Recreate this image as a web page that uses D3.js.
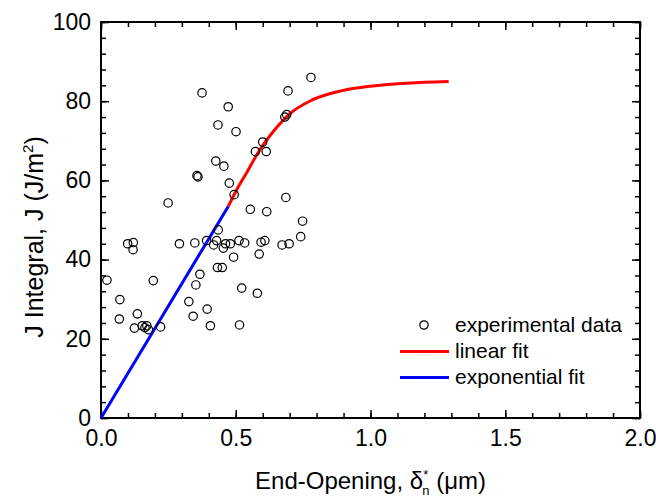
<!DOCTYPE html>
<html lang="en">
<head>
  <meta charset="utf-8">
  <title>J Integral vs End-Opening</title>
  <script src="https://cdnjs.cloudflare.com/ajax/libs/d3/7.8.5/d3.min.js"></script>
  <style type="text/css">
  body { margin: 0; background: #fff; }
  svg { display: block; font-family: Arial, 'Liberation Sans', sans-serif; }
  .tick line { stroke: #000; stroke-width: 1.5; }
  .domain { display: none; }
  </style>
</head>
<body>
  <svg id="chart"></svg>
  <script type="text/javascript">
  // experimental points: [end-opening (um), J (J/m2)]
  var expX = [0.022, 0.070, 0.068, 0.099, 0.120, 0.119, 0.135, 0.124, 0.153, 0.163,
              0.170, 0.176, 0.194, 0.221, 0.249, 0.291, 0.326, 0.342, 0.348, 0.352,
              0.356, 0.360, 0.367, 0.375, 0.392, 0.394, 0.406, 0.418, 0.426, 0.429,
              0.432, 0.434, 0.435, 0.450, 0.454, 0.456, 0.462, 0.472, 0.476, 0.480,
              0.492, 0.494, 0.501, 0.512, 0.514, 0.522, 0.533, 0.554, 0.573, 0.580,
              0.587, 0.594, 0.600, 0.608, 0.613, 0.615, 0.672, 0.682, 0.686, 0.689,
              0.694, 0.698, 0.741, 0.748, 0.779];
  var expJ = [34.8, 29.9, 25.0, 44.0, 44.3, 42.5, 26.3, 22.7, 23.3, 22.8,
              23.3, 22.3, 34.7, 23.0, 54.3, 44.0, 29.4, 25.7, 44.2, 33.6,
              61.2, 60.9, 36.3, 82.1, 44.8, 27.5, 23.3, 43.7, 64.9, 44.8,
              38.0, 74.0, 47.5, 38.0, 42.9, 63.6, 44.0, 78.6, 59.3, 44.0,
              40.6, 56.4, 72.3, 44.8, 23.5, 32.8, 44.2, 52.7, 67.3, 31.5,
              41.4, 44.4, 69.7, 44.8, 67.3, 52.1, 43.7, 76.0, 55.7, 76.6,
              82.6, 44.0, 45.8, 49.7, 86.0];

  // fitted curves
  var linX = [0.472, 0.50, 0.54, 0.59, 0.64, 0.70, 0.78, 0.89, 1.00, 1.10, 1.20, 1.29];
  var linJ = [53.4, 57.2, 61.9, 67.8, 72.4, 76.8, 80.2, 82.6, 83.8, 84.4, 84.8, 85.0];
  var expFitX = [0, 0.472];
  var expFitJ = [0, 53.4];

  var xTicks = [0, 0.5, 1.0, 1.5, 2.0];
  var yTicks = [0, 20, 40, 60, 80, 100];
  var legendLabels = ["experimental data", "linear fit", "exponential fit"];

  var w = 656, h = 497;
  var mLeft = 101, mRight = 640, mTop = 22, mBottom = 418;
  var tickFont = 23, legendFont = 21;

  var svg = d3.select("#chart").attr("width", w).attr("height", h);

  var x = d3.scaleLinear().domain([0, 2]).range([mLeft, mRight]);
  var y = d3.scaleLinear().domain([0, 100]).range([mBottom, mTop]);

  var xMinor = d3.range(0, 2.0001, 0.1);
  var yMinor = d3.range(0, 100.001, 4);

  function styleAxis(g) {
    g.attr("font-size", null).attr("font-family", null);
    g.selectAll("text").style("font-size", tickFont + "px").attr("fill", "#000");
  }

  // minor ticks on all four sides
  svg.append("g").attr("transform", "translate(0," + mBottom + ")")
    .call(d3.axisBottom(x).tickValues(xMinor).tickSize(-5).tickFormat(""));
  svg.append("g").attr("transform", "translate(0," + mTop + ")")
    .call(d3.axisTop(x).tickValues(xMinor).tickSize(-5).tickFormat(""));
  svg.append("g").attr("transform", "translate(" + mLeft + ",0)")
    .call(d3.axisLeft(y).tickValues(yMinor).tickSize(-5).tickFormat(""));
  svg.append("g").attr("transform", "translate(" + mRight + ",0)")
    .call(d3.axisRight(y).tickValues(yMinor).tickSize(-5).tickFormat(""));

  // major ticks
  svg.append("g").attr("transform", "translate(0," + mBottom + ")")
    .call(d3.axisBottom(x).tickValues(xTicks).tickSize(-8).tickPadding(12).tickFormat(d3.format(".1f")))
    .call(styleAxis);
  svg.append("g").attr("transform", "translate(0," + mTop + ")")
    .call(d3.axisTop(x).tickValues(xTicks).tickSize(-8).tickFormat(""));
  svg.append("g").attr("transform", "translate(" + mLeft + ",0)")
    .call(d3.axisLeft(y).tickValues(yTicks).tickSize(-8).tickPadding(10))
    .call(styleAxis);
  svg.append("g").attr("transform", "translate(" + mRight + ",0)")
    .call(d3.axisRight(y).tickValues(yTicks).tickSize(-8).tickFormat(""));

  // frame
  svg.append("rect")
    .attr("x", mLeft).attr("y", mTop)
    .attr("width", mRight - mLeft).attr("height", mBottom - mTop)
    .attr("fill", "none").attr("stroke", "#000").attr("stroke-width", 2);

  // fit lines
  var line = d3.line()
    .x(function(d) { return x(d[0]); })
    .y(function(d) { return y(d[1]); })
    .curve(d3.curveMonotoneX);

  svg.append("path")
    .datum(d3.zip(linX, linJ))
    .attr("d", line)
    .attr("fill", "none").attr("stroke", "#ff0000").attr("stroke-width", 3);

  svg.append("path")
    .datum(d3.zip(expFitX, expFitJ))
    .attr("d", line)
    .attr("fill", "none").attr("stroke", "#0000ff").attr("stroke-width", 3);

  // experimental data
  svg.append("g").selectAll("circle")
    .data(d3.zip(expX, expJ))
    .enter()
    .append("circle")
    .attr("cx", function(d) { return x(d[0]); })
    .attr("cy", function(d) { return y(d[1]); })
    .attr("r", 4.2)
    .attr("fill", "none").attr("stroke", "#000").attr("stroke-width", 1.2);

  // legend
  var lg = svg.append("g").attr("transform", "translate(400,325)");
  lg.append("circle").attr("cx", 24).attr("cy", 0).attr("r", 4.2)
    .attr("fill", "none").attr("stroke", "#000").attr("stroke-width", 1.2);
  lg.append("line").attr("x1", 0).attr("x2", 49).attr("y1", 26.5).attr("y2", 26.5)
    .attr("stroke", "#ff0000").attr("stroke-width", 3);
  lg.append("line").attr("x1", 0).attr("x2", 49).attr("y1", 52.5).attr("y2", 52.5)
    .attr("stroke", "#0000ff").attr("stroke-width", 3);
  lg.selectAll("text")
    .data(legendLabels)
    .enter()
    .append("text")
    .attr("x", 55)
    .attr("y", function(d, i) { return 7 + i * 26; })
    .style("font-size", legendFont + "px")
    .text(function(d) { return d; });

  // x axis title
  var xt = svg.append("text")
    .attr("x", (mLeft + mRight) / 2)
    .attr("y", 489)
    .attr("text-anchor", "middle")
    .style("font-size", "24px");
  xt.append("tspan").text("End-Opening, \u03b4");
  xt.append("tspan").attr("dy", -10).style("font-size", "13px").text("*");
  xt.append("tspan").attr("dx", -6).attr("dy", 16).style("font-size", "13px").text("n");
  xt.append("tspan").attr("dy", -6).text(" (\u03bcm)");

  // y axis title
  var yt = svg.append("text")
    .attr("transform", "translate(43,237) rotate(-90)")
    .attr("text-anchor", "middle")
    .style("font-size", "25px");
  yt.append("tspan").text("J Integral, J (J/m");
  yt.append("tspan").attr("dy", -10).style("font-size", "15px").text("2");
  yt.append("tspan").attr("dy", 10).text(")");
  </script>
</body>
</html>
